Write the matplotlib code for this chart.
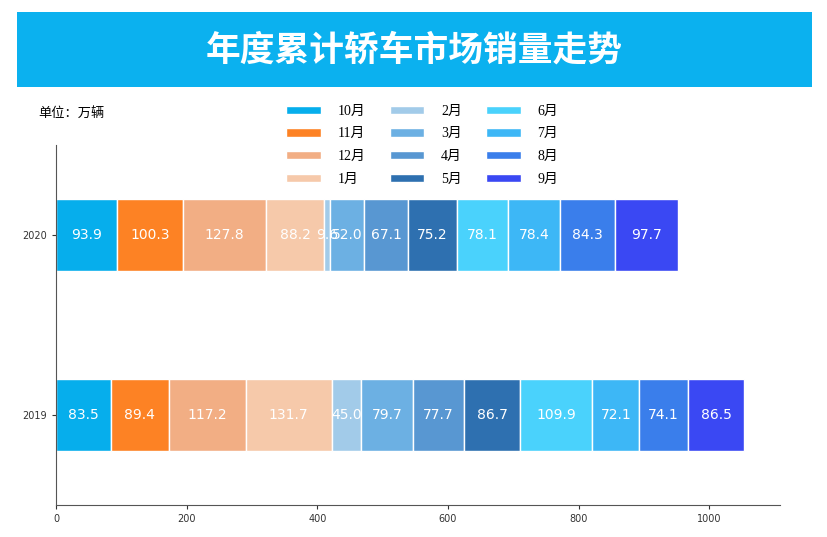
import matplotlib.pyplot as plt
from matplotlib.patches import Rectangle

plt.rcParams['font.family'] = ['DejaVu Sans', 'Noto Sans CJK SC']

years = ['2019', '2020']
months = ['10月', '11月', '12月', '1月', '2月', '3月', '4月', '5月', '6月', '7月', '8月', '9月']
sales_2019 = [83.5, 89.4, 117.2, 131.7, 45.0, 79.7, 77.7, 86.7, 109.9, 72.1, 74.1, 86.5]
sales_2020 = [93.9, 100.3, 127.8, 88.2, 9.6, 52.0, 67.1, 75.2, 78.1, 78.4, 84.3, 97.7]
colors = ['#06aeec', '#fd8224', '#f2ae84', '#f6c9aa', '#a2cbe9', '#6cb0e3',
          '#5897d2', '#2e70b0', '#4ad2fc', '#3db7f6', '#3a7eeb', '#3a48f3']

fig = plt.figure(figsize=(8.28, 5.37), dpi=100)

# title banner
fig.patches.append(Rectangle((0.0205, 0.838), 0.9605, 0.140, transform=fig.transFigure,
                             facecolor='#0bb1ef', edgecolor='none', zorder=0))
fig.text(0.5, 0.907, '年度累计轿车市场销量走势', ha='center', va='center', color='white',
         fontsize=25, fontweight='bold', family=['Noto Sans CJK SC'])
fig.text(0.046, 0.788, '单位：万辆', ha='left', va='center', fontsize=9.5,
         family=['Noto Sans CJK SC'])

ax = fig.add_axes([0.0676, 0.0596, 0.8744, 0.6704])

data = [sales_2019, sales_2020]
left = [0.0, 0.0]
for i, m in enumerate(months):
    vals = [d[i] for d in data]
    ax.barh([0, 1], vals, left=left, height=0.4, color=colors[i],
            edgecolor='white', linewidth=1, label=m)
    for y, v in enumerate(vals):
        ax.text(left[y] + v / 2, y, f'{v:.1f}', ha='center', va='center',
                color='white', fontsize=10)
    left = [left[k] + vals[k] for k in range(2)]

ax.set_yticks([0, 1])
ax.set_yticklabels(years)
ax.set_ylim(-0.5, 1.5)
ax.set_xlim(0, 1108)
ax.set_xticks([0, 200, 400, 600, 800, 1000])
ax.tick_params(labelsize=7, colors='#333333', length=3)
for s in ['top', 'right']:
    ax.spines[s].set_visible(False)
for s in ['left', 'bottom']:
    ax.spines[s].set_color('#555555')

fig.legend(loc='upper left', bbox_to_anchor=(0.337, 0.818), ncol=3, frameon=False,
           prop={'family': ['Liberation Serif', 'Noto Sans CJK SC'], 'size': 10},
           handlelength=2.5, handleheight=0.55, labelspacing=0.7, columnspacing=1.75,
           handletextpad=1.2, borderpad=0)

fig.savefig('out.png', dpi=100)
